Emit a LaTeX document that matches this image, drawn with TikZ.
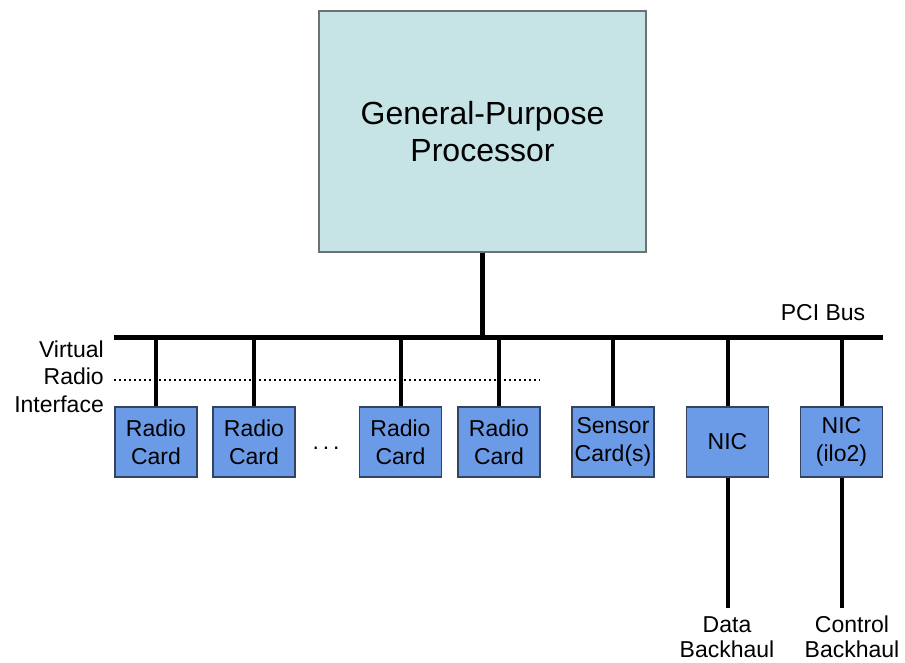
\documentclass[tikz,border=0pt]{standalone}
\usepackage{fontspec}
\setmainfont{Liberation Sans}
\begin{document}
\begin{tikzpicture}[x=1pt,y=-1pt,
  cpubox/.style={draw=cpuedge,fill=cpufill,line width=1.2pt,inner sep=0pt,
    minimum width=327pt,minimum height=241pt,align=center,
    font=\fontsize{32}{37}\selectfont},
  cardbox/.style={draw=cardedge,fill=cardfill,line width=1.2pt,inner sep=0pt,
    minimum width=82pt,minimum height=70pt,align=center,
    font=\fontsize{23}{28}\selectfont},
  lbl/.style={inner sep=0pt,align=center,font=\fontsize{23}{27}\selectfont},
  bus/.style={line width=5pt,line cap=butt},
  tap/.style={line width=4pt,line cap=butt},
  vri/.style={line width=2pt,dash pattern=on 2pt off 3pt}]
\definecolor{cpufill}{HTML}{C6E3E6}
\definecolor{cpuedge}{HTML}{6B7272}
\definecolor{cardfill}{HTML}{6B9BE6}
\definecolor{cardedge}{HTML}{34435E}
\useasboundingbox (0,0) rectangle (905,662);

% processor
\node[cpubox] (cpu) at (482.5,131.5) {General-Purpose\\Processor};

% PCI bus
\coordinate (busL) at (114,337);
\coordinate (busR) at (883,337);
\draw[bus] (busL) -- (busR);
\node[lbl,anchor=base] (pci) at (823,320) {PCI Bus};
\draw[line width=5.5pt,line cap=butt] (cpu.south) -- (cpu.south |- busL);

% virtual radio interface
\coordinate (vriL) at (114,380);
\coordinate (vriR) at (540,380);
\draw[vri] (vriL) -- (vriR);
\node[lbl,anchor=base east] (lv) at (104,357) {Virtual};
\node[lbl,anchor=base east] (lr) at (104,384) {Radio};
\node[lbl,anchor=base east] (li) at (104,412) {Interface};

% cards on the bus
\node[cardbox] (rc1) at (156,442) {Radio\\Card};
\node[cardbox] (rc2) at (254,442) {Radio\\Card};
\node[cardbox] (rc3) at (400.5,442) {Radio\\Card};
\node[cardbox] (rc4) at (499,442) {Radio\\Card};
\node[lbl,anchor=base] (dots) at (326,449) {.\,.\,.};
\node[cardbox] (sc) at (613,442) {Sensor\\Card(s)};
\node[cardbox] (nic) at (727.5,442) {NIC};
\node[cardbox] (nic2) at (841.5,442) {NIC\\(ilo2)};

\foreach \c in {rc1,rc2,rc3,rc4,sc,nic,nic2}
  \draw[tap] (\c.north) -- (\c.north |- busL);

% backhaul links
\coordinate (dbEnd) at (727.5,608);
\coordinate (cbEnd) at (841.5,608);
\draw[tap] (nic.south) -- (dbEnd);
\draw[tap] (nic2.south) -- (cbEnd);
\node[lbl,anchor=base] (db) at (727,632) {Data};
\node[lbl,anchor=base] (db2) at (727,657) {Backhaul};
\node[lbl,anchor=base] (cb) at (852,632) {Control};
\node[lbl,anchor=base] (cb2) at (852,657) {Backhaul};
\end{tikzpicture}
\end{document}
